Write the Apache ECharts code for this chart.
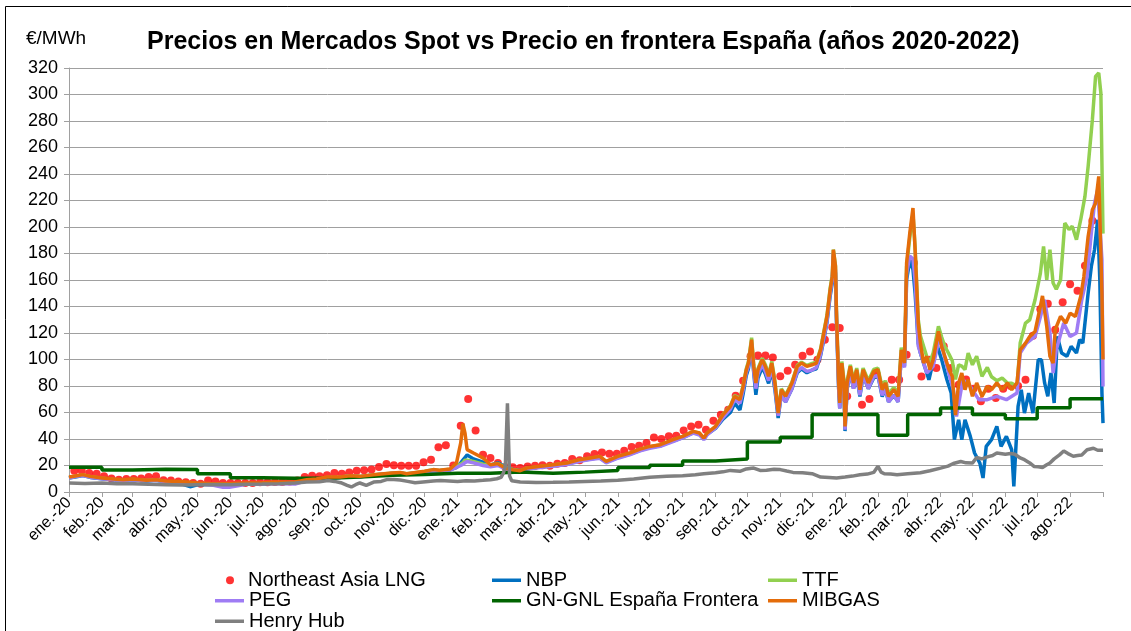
<!DOCTYPE html>
<html>
<head>
<meta charset="utf-8">
<title>Precios en Mercados Spot vs Precio en frontera España</title>
<script src="https://cdn.jsdelivr.net/npm/echarts@6.0.0/dist/echarts.min.js"></script>
<style>
  html, body { margin: 0; padding: 0; background: #fff; }
  #chart { width: 1131px; height: 631px; }
</style>
</head>
<body>
<div id="chart"></div>
<script>
  const FONT = '"Liberation Sans", Arial, sans-serif';

  // eje x: un día por categoría, del 1-ene-2020 al 1-sep-2022
  const firstDay = Date.UTC(2020, 0, 1);
  const nDays = 975;
  const mesesES = ['ene.', 'feb.', 'mar.', 'abr.', 'may.', 'jun.', 'jul.', 'ago.', 'sep.', 'oct.', 'nov.', 'dic.'];

  // datos: [días desde el 1-ene-2020, €/MWh]
  // Northeast Asia LNG: semanal, primer valor el 6-ene-2020
  const lngFirstDay = 5;
  const lngValues = [
    16.1, 16.1, 14.3, 13.8, 11.8, 10.1, 9.3, 9.8, 9.8, 10.1, 11.3, 11.8, 8.8, 8.6, 8, 7.3, 6.8, 6.3, 8.6, 8,
    6.8, 6.8, 6.8, 6.8, 6.8, 7.3, 7.3, 7.5, 7.5, 8, 8.6, 11.3, 12.3, 11.8, 12.6, 14.3, 13.8, 14.8, 16.1, 16.4,
    16.9, 18.9, 21.1, 20.1, 19.9, 19.9, 19.9, 22.4, 24.4, 33.7, 35.2, 20, 50, 70.2, 46.5, 28.2, 25.6, 21.9, 18.8, 18.6,
    18.1, 19.3, 19.8, 20.1, 19.8, 21.4, 21.9, 24.9, 23.9, 26.9, 28.7, 29.9, 28.9, 28.9, 31.2, 34, 35, 37, 41.2, 40,
    42, 42.5, 46.5, 49.5, 50.8, 47, 53.7, 58.3, 62.1, 72.7, 84, 102.4, 103, 103.1, 101.6, 87.3, 91.6, 96.1, 102.9, 106.1,
    99.9, 115, 124.3, 123.8, 72.2, 86, 65.9, 70.2, 88.5, 81, 84.8, 84.8, 103.6, 172.8, 87.2, 99.9, 93.5, 110, 93.5, 81,
    85, 78, 68.4, 78, 70.9, 78, 80, 80, 84.8, 118, 138, 142.1, 122.5, 143.3, 156.7, 151.9, 170.8, 204.7
  ];

  const nbp = [
    [0,10.5],[7,11.5],[13,12.5],[20,11],[31,10],[42,9.3],[51,8.8],[60,9.2],[73,8.2],[82,8.8],[91,7.5],[104,6.5],[114,4],[121,5.5],
    [136,5.8],[151,5.5],[167,6],[182,6.3],[192,6.8],[213,7.2],[224,8.8],[233,9.3],[243,10.8],[255,11],[265,12],[274,11.5],[287,12.8],
    [304,14],[312,14.3],[318,13.5],[335,15],[343,16.2],[349,16],[359,17],[365,18.5],
    [369,22],[371,24],[373,26],[375,28],[381,25],[390,22.5],[397,20.5],[404,22],[411,19],[418,17],[425,16],
    [431,17.5],[444,18.8],[456,19.8],[469,21],[481,23.5],[491,24.8],[500,26],[506,22.5],[517,26],[528,28.5],[538,31.5],[547,33.5],
    [557,34.8],[569,38.5],[578,41],[588,44.8],[594,43.5],[598,40],[601,43.5],[609,48],
    [616,55],[623,60],[627,67],[632,62],[635,74],[638,88],[640,93],[643,110],[645,90],[647,73.4],[649,86],[653,94],[656,89],
    [659,82],[662,92],[665,77],[668,55.8],
    [671,74],[675,68],[678,73],[681,78],[686,90],[690,93],[695,90],[700,92],[704,93],[708,103],[711,115],[714,128],[717,148],
    [719,158],[720,178],[722,165],[723,128],[725,78],[726,63],[728,92],[730,78],[731,46],[733,78],[736,90],[739,78],[742,88],
    [745,72],[748,88],[753,78],[758,86],[762,88],[766,72],[769,78],[772,68],[777,73],[781,68],[784,102],[787,95],[789,160],
    [792,175],[795,168],[797,150],
    [800,112],[802,104.9],[806,94.8],[810,84.7],[813,94.8],[817,112.4],[822,99.9],[827,84.7],[831,74.7],[834,39.5],[838,54.5],
    [841,39.5],[844,54.5],[849,42],[853,29.4],[858,21.8],[861,10.6],[864,34.4],[869,39.5],[874,49.5],[878,34.4],[883,42],
    [888,31.9],[890,4.2],[894,64.6],[897,77.2],[900,59.6],[904,74.7],[908,59.6],[913,99.9],[916,99.9],[919,82.3],[922,72.2],
    [925,89.8],[928,67.2],[931,117.4],[935,104.9],[940,102.4],[944,109.9],[949,104.9],[952,114.9],[955,112.4],[960,150.2],
    [963,170.2],[966,182.8],[969,205.5],[971,160.2],[973,74.7],[974,52]
  ];

  const ttf = [
    [0,10.8],[7,12],[13,12.8],[20,11.5],[31,10.3],[42,9.5],[51,9],[60,9.5],[73,8.6],[82,9],[91,8],[104,7.5],[114,6.5],[121,6],
    [136,5.8],[151,5.5],[167,6.3],[182,6.5],[192,7],[213,7.2],[224,9],[233,9.5],[243,11],[255,11.2],[265,12.2],[274,11.8],[287,13],
    [304,14.2],[312,14.6],[318,13.8],[335,15.5],[343,16.8],[349,16.3],[359,17.2],[365,19.5],
    [369,21],[371,22],[373,24],[375,24],[381,23],[390,21],[397,20],[404,21.5],[411,18.5],[418,17],[425,16],
    [431,18],[444,19.2],[456,20.4],[469,21.7],[481,24.2],[491,25.4],[500,26.7],[506,23],[517,26.7],[528,29.2],[538,32.2],[547,34.2],
    [557,35.5],[569,39.3],[578,41.8],[588,45.6],[594,44.3],[598,40.5],[601,44.3],[609,49.2],
    [616,58.5],[623,65],[627,72.8],[632,70.5],[635,80.5],[638,93],[640,98.5],[643,116.5],[645,96],[647,83.5],[649,93],[653,101],
    [656,96],[659,88.5],[662,98.5],[665,83.5],[668,61],
    [671,78],[675,73],[678,78],[681,83],[686,95.5],[690,98],[695,95.5],[700,97],[704,98],[708,108],[711,121],[714,133.5],[717,154],
    [719,164],[720,183],[722,171],[723,134],[725,84],[726,69],[728,98.5],[730,84],[731,52],[733,84],[736,96],[739,84],[742,93.5],
    [745,79],[748,93.5],[753,84],[758,92.5],[762,93.5],[766,79],[769,84],[772,74],[777,79],[781,74],[784,109],[787,99],[789,170],
    [792,192],[795,210],[797,185],
    [800,130],[802,118],[805,110],[808,102],[811,98],[814,104.9],[819,125],[822,117],[825,110],[829,104],[832,99],[835,85],[838,96],
    [841,95],[844,92.3],[847,104.9],[851,96],[855,102.4],[860,87.3],[865,94],[869,87],[874,84],[879,86],[884,82.3],[888,82],[893,80],
    [896,112.4],[901,127.5],[905,130],[910,145.1],[915,165],[918,185.4],[921,160.2],[924,182.8],[927,157.7],[930,153],[934,160],
    [938,203],[942,198],[945,200.5],[949,190.4],[953,205.5],[957,223.1],[960,245.7],[964,281],[967,313.6],[970,316.2],[972,301],[974,195]
  ];

  const peg = [
    [0,10.5],[7,11.8],[13,12.5],[20,11.2],[31,10],[42,9.3],[51,8.8],[60,9.3],[73,8.4],[82,8.8],[91,7.8],[104,7.5],[114,6.8],[121,6.3],
    [136,5],[145,3.5],[151,3.6],[167,5.8],[182,6],[192,6.5],[213,6],[224,8.6],[233,9.3],[243,10.8],[255,11],[265,12],[274,11.5],
    [287,12.8],[304,14],[312,14.5],[318,13.5],[335,15],[343,16],[349,15.8],[359,16.5],[365,18.5],
    [369,20],[371,21],[373,22],[375,23],[381,22],[390,20],[397,19],[404,20],[411,17.5],[418,16.5],[425,15.5],
    [431,17.3],[444,18.5],[456,19.5],[469,20.8],[481,23.2],[491,24.5],[500,25.5],[506,22],[517,25.5],[528,28],[538,31],[547,33],
    [557,34.5],[569,38],[578,40.8],[588,44.5],[594,43],[598,39.5],[601,43],[609,48.3],
    [616,56],[623,62.5],[627,70],[632,67],[635,77],[638,90],[640,95],[643,112],[645,91],[647,78],[649,89],[653,96],[656,91],
    [659,84],[662,94],[665,79],[668,57.5],
    [671,73],[675,68],[678,73],[681,78],[686,91],[690,94],[695,91],[700,92],[704,94],[708,104],[711,116],[714,129],[717,150],
    [719,160],[720,180],[722,167],[723,129],[725,78],[726,63],[728,93],[730,78],[731,47],[733,78],[736,91],[739,78],[742,88],
    [745,73],[748,88],[753,78],[758,87],[762,88],[766,73],[769,78],[772,68],[777,73],[781,68],[784,103],[787,94],[789,165],
    [792,178],[795,176],[797,160],
    [800,110],[802,104.9],[808,89.8],[814,94.8],[820,117.4],[827,94.8],[833,77.2],[836,57],[842,84.7],[849,79.7],[857,69.7],
    [865,69.7],[874,72.2],[883,69.7],[893,74.7],[896,104.9],[902,112.4],[910,117.4],[916,135],[919,145.1],[924,120],[927,89.8],
    [930,107.3],[937,127.5],[943,117.4],[949,120],[954,145.1],[959,162.7],[963,195.4],[966,218],[969,228.1],[973,175.3],[974,79.7]
  ];

  // GN-GNL España Frontera: un valor por mes (escalón)
  const gnglDays = [0, 31, 60, 91, 121, 152, 182, 213, 244, 274, 305, 335, 366, 397, 425, 456, 486, 517, 547, 578, 609,
    639, 670, 700, 731, 762, 790, 821, 851, 882, 912, 943, 974];
  const gnglValues = [18.6, 16.6, 17.1, 16.9, 13.8, 10.8, 10.3, 10.3, 11.3, 12.6, 13.3, 14.1, 14.1, 15.1, 14.1, 15, 16.3,
    18.4, 20.1, 23.4, 24.9, 37.7, 41.3, 58.4, 58.4, 42.8, 58.4, 63.4, 58.4, 55.2, 63.5, 70.4, 70.4];

  const mibgas = [
    [0,11.3],[7,12.3],[13,13.1],[20,11.8],[31,10.6],[42,9.8],[51,9.3],[60,9.8],[73,8.8],[82,9.3],[91,8.3],[104,8],[114,7.3],[121,6.8],
    [136,6.3],[151,6.3],[167,6.8],[182,6.8],[192,7.3],[213,7.5],[224,9.3],[233,9.8],[243,11.3],[255,11.3],[265,12.3],[274,11.8],
    [287,13.1],[304,14.3],[312,14.8],[318,13.8],[335,15.6],[343,16.9],[349,16.4],[359,17.4],[365,21.9],
    [369,37],[371,51.6],[373,44.5],[375,32],[381,29.4],[390,25.7],[397,20.5],[404,21.4],[411,18.1],[418,16.8],[425,16.1],
    [431,18.1],[444,19.4],[456,20.6],[469,21.9],[481,24.4],[491,25.6],[500,26.9],[506,23.1],[517,26.9],[528,29.4],[538,32.4],
    [547,34.4],[557,35.7],[569,39.5],[578,42],[588,45.8],[594,44.5],[598,40.7],[601,44.5],[609,49.5],
    [616,58.3],[623,64.6],[627,72.2],[632,69.7],[635,79.7],[638,92.3],[640,97.3],[643,115],[645,94.8],[647,82.3],[649,92.3],
    [653,99.9],[656,94.8],[659,87.3],[662,97.3],[665,82.3],[668,59.6],
    [671,77.2],[675,72.2],[678,77.2],[681,82.3],[686,94.8],[690,97.3],[695,94.8],[700,96],[704,97.3],[708,107.3],[711,119.9],
    [714,132.5],[717,152.6],[719,162.7],[720,182.8],[722,170.2],[723,132.5],[725,82.3],[726,67.2],[728,97.3],[730,82.3],[731,49.5],
    [733,82.3],[736,94.8],[739,82.3],[742,92.3],[745,77.2],[748,92.3],[753,82.3],[758,91],[762,92.3],[766,77.2],[769,82.3],
    [772,72.2],[777,77.2],[781,72.2],[784,107.3],[787,97.3],[789,172.8],[792,195.4],[795,214.3],[797,182.8],
    [800,127.5],[802,112.4],[805,97.3],[808,102.4],[811,92.3],[814,99.9],[819,121.2],[822,110],[825,102.4],[829,92.3],[832,87.3],
    [835,58],[838,82.3],[841,89.8],[844,77.2],[847,84.8],[851,72.2],[855,82.3],[860,72.2],[865,79.7],[869,77.2],[874,82.3],
    [879,77.2],[884,82.3],[888,77.2],[893,82.3],[896,107.3],[901,112.4],[905,117.4],[910,121.2],[915,140.1],[917,148],[921,125],
    [924,102.4],[927,97.3],[929,122.5],[934,132.5],[939,127.5],[943,135],[948,132.5],[953,147.6],[956,162.7],[960,192.9],
    [964,213],[967,218],[970,238.2],[973,150],[974,100]
  ];

  const henryHub = [
    [0,6.8],[15,6.5],[31,6.8],[45,6.2],[60,6.3],[75,5.8],[91,5.5],[106,5.2],[121,5.5],[136,5.6],[152,5.5],[167,5.8],[182,6],
    [198,6.3],[213,6.8],[224,7.5],[236,7.8],[244,8.6],[250,8],[256,7],[262,5],[266,3.8],[270,5.5],[274,6.8],[280,5],[287,7.5],
    [294,8],[300,9.5],[306,9.5],[312,9],[319,8],[326,7],[336,7.8],[343,8.3],[350,8.6],[358,8.3],[366,8],[374,8.5],[382,8.3],
    [390,8.8],[397,9.3],[403,10],[407,11],[409,14],[411,19],[413,67],[415,12],[417,8.5],[425,7.5],[440,7.2],[456,7.3],[471,7.6],
    [486,8],[501,8.3],[517,8.8],[532,9.8],[547,11.2],[563,11.8],[578,12.3],[590,13],[598,13.8],[609,14.5],[616,15.2],[623,16.3],
    [632,15.6],[638,17.4],[643,18],[645,18.1],[651,16.3],[657,16.4],[664,17.2],[670,16.9],[676,15.8],[682,14.8],[691,14.5],
    [700,13.8],[708,11.3],[716,11],[723,10.6],[731,11.3],[738,12],[745,13],[752,13.5],[758,14.8],[762,19.4],[765,15],[768,13.8],
    [774,13.5],[780,13],[790,13.8],[802,14.5],[811,16],[821,18],[828,19.5],[833,21.5],[840,23],[845,22],[851,21.8],[855,26],
    [860,25],[865,26.5],[870,27.5],[874,29.4],[882,28.5],[887,29],[891,28.5],[896,25.7],[900,24.4],[905,21.9],[909,19.3],
    [913,19],[917,18.5],[921,20.6],[924,21.9],[928,25],[933,28],[937,31],[941,29],[946,27],[950,27.5],[954,28],[959,31.9],
    [965,33],[969,31.5],[974,31.5]
  ];

  const days = [];
  for (let i = 0; i < nDays; i++) {
    days.push(new Date(firstDay + i * 86400000).toISOString().slice(0, 10));
  }
  const lng = lngValues.map((v, i) => [lngFirstDay + i * 7, v]);
  const gngl = gnglDays.map((d, i) => [d, gnglValues[i]]);

  const isMonthStart = (i, v) => v.slice(8) === '01';

  const lineSeries = (name, data, color, extra) => Object.assign({
    name: name,
    type: 'line',
    data: data,
    symbol: 'none',
    lineStyle: { color: color, width: 3.5 },
    itemStyle: { color: color },
    silent: true
  }, extra || {});

  // leyenda en tres columnas, filas cada 20.5 px
  const legendBox = (left, top, names, icon, w, h, textPad) => ({
    orient: 'vertical',
    left: left,
    top: top,
    height: 90,
    padding: 0,
    icon: icon,
    itemWidth: w,
    itemHeight: h,
    itemGap: 0,
    selectedMode: false,
    textStyle: { fontSize: 20, lineHeight: 20.5, color: '#000', fontFamily: FONT, padding: [0, 0, 0, textPad] },
    data: names
  });

  const chart = echarts.init(document.getElementById('chart'));
  chart.setOption({
    animation: false,
    backgroundColor: '#fff',
    textStyle: { fontFamily: FONT },
    title: {
      text: 'Precios en Mercados Spot vs Precio en frontera España (años 2020-2022)',
      left: 147,
      top: 30,
      padding: 0,
      textStyle: { fontSize: 25, fontWeight: 'bold', color: '#000', fontFamily: FONT }
    },
    graphic: [
      {
        type: 'rect',
        shape: { x: 5.5, y: 6.5, width: 1300, height: 800 },
        style: { fill: 'none', stroke: '#000', lineWidth: 1 },
        silent: true
      },
      {
        type: 'text',
        left: 26,
        top: 29,
        style: { text: '€/MWh', fontSize: 19, fill: '#000', fontFamily: FONT }
      }
    ],
    legend: [
      legendBox(226, 570, ['Northeast Asia LNG'], 'circle', 8, 8, 9),
      legendBox(215, 590.5, ['PEG', 'Henry Hub'], 'rect', 29, 3.5, 0),
      legendBox(492, 570, ['NBP', 'GN-GNL España Frontera'], 'rect', 29, 3.5, 0),
      legendBox(768, 570, ['TTF', 'MIBGAS'], 'rect', 29, 3.5, 0)
    ],
    grid: { left: 69, right: 28, top: 68, bottom: 139 },
    xAxis: {
      type: 'category',
      data: days,
      boundaryGap: false,
      axisLine: { lineStyle: { color: '#a0a0a0', width: 1 } },
      axisTick: { interval: isMonthStart, length: 5, lineStyle: { color: '#a0a0a0' } },
      axisLabel: {
        interval: (i, v) => isMonthStart(i, v) && i < nDays - 1,
        rotate: 45,
        margin: 8,
        fontSize: 16,
        color: '#000',
        fontFamily: FONT,
        formatter: v => mesesES[+v.slice(5, 7) - 1] + '-' + v.slice(2, 4)
      },
      splitLine: { show: false }
    },
    yAxis: {
      type: 'value',
      min: 0,
      max: 320,
      interval: 20,
      axisLine: { show: true, lineStyle: { color: '#a0a0a0', width: 1 } },
      axisTick: { show: true, length: 5, lineStyle: { color: '#a0a0a0' } },
      axisLabel: { fontSize: 18, color: '#000', margin: 11, fontFamily: FONT },
      splitLine: { lineStyle: { color: '#a0a0a0', width: 1 } }
    },
    series: [
      {
        name: 'Northeast Asia LNG',
        type: 'scatter',
        data: lng,
        symbol: 'circle',
        symbolSize: 8,
        itemStyle: { color: '#ff0000' },
        silent: true
      },
      lineSeries('NBP', nbp, '#0070c0'),
      lineSeries('TTF', ttf, '#92d050'),
      lineSeries('PEG', peg, '#9f7cf4'),
      lineSeries('GN-GNL España Frontera', gngl, '#006400', { step: 'end' }),
      lineSeries('MIBGAS', mibgas, '#e46c0a'),
      lineSeries('Henry Hub', henryHub, '#808080')
    ]
  });
</script>
</body>
</html>
